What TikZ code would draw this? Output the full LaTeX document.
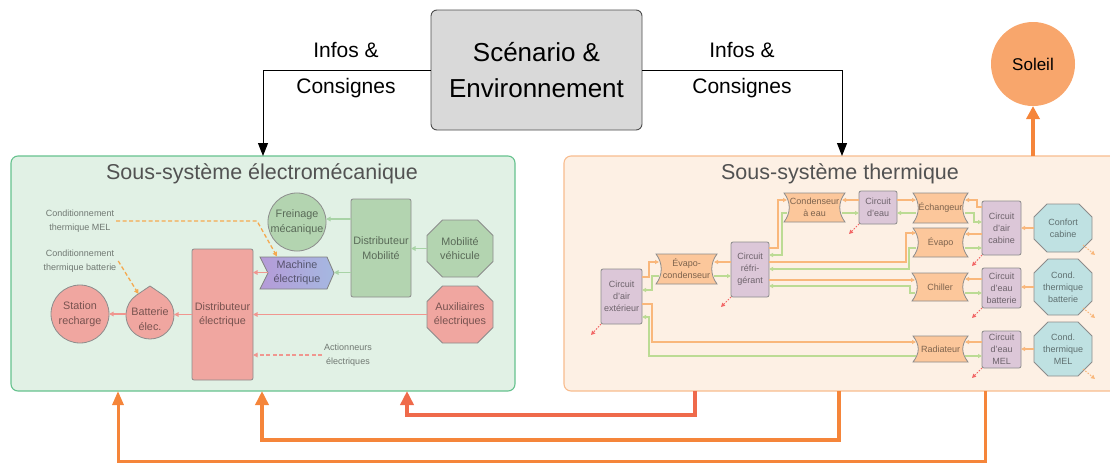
\documentclass[tikz,border=0pt]{standalone}
\usepackage{fontspec}
\setmainfont{Liberation Sans}
\usetikzlibrary{arrows.meta,calc}
\definecolor{lgfill}{HTML}{E1F1E5}
\definecolor{lgdraw}{HTML}{66C28E}
\definecolor{rtfill}{HTML}{FDF0E4}
\definecolor{rtdraw}{HTML}{F8BC8E}
\definecolor{salmon}{HTML}{F0A6A0}
\definecolor{mgreen}{HTML}{B3D4B0}
\definecolor{lav}{HTML}{DCC7D8}
\definecolor{lorange}{HTML}{FCC79B}
\definecolor{lcyan}{HTML}{BFE1E2}
\definecolor{corange}{HTML}{F9B77B}
\definecolor{cgreen}{HTML}{BCDB94}
\definecolor{csalmon}{HTML}{F0968F}
\definecolor{cgreenL}{HTML}{A8D3A6}
\definecolor{cred}{HTML}{F26666}
\definecolor{cdash}{HTML}{F5A94F}
\definecolor{bigA}{HTML}{EF6A4B}
\definecolor{bigB}{HTML}{F5853A}
\definecolor{sun}{HTML}{F8A66C}
\definecolor{scen}{HTML}{D9D9D9}
\definecolor{mpur}{HTML}{B59BD8}
\definecolor{mblu}{HTML}{A5B8E1}

\newcommand\ConcPath[4]{%
 \filldraw[concst] ({#1-#3},{#2-#4}) -- ({#1+#3},{#2-#4})
  .. controls ({#1+#3-7},{#2-#4+9}) and ({#1+#3-7},{#2+#4-9}) .. ({#1+#3},{#2+#4})
  -- ({#1-#3},{#2+#4})
  .. controls ({#1-#3+7},{#2+#4-9}) and ({#1-#3+7},{#2-#4+9}) .. cycle;}
\newcommand\OctPath[6]{%
 \filldraw[#1] ({#2-#4+#6},{#3-#5}) -- ({#2+#4-#6},{#3-#5}) -- ({#2+#4},{#3-#5+#6})
  -- ({#2+#4},{#3+#5-#6}) -- ({#2+#4-#6},{#3+#5}) -- ({#2-#4+#6},{#3+#5})
  -- ({#2-#4},{#3+#5-#6}) -- ({#2-#4},{#3-#5+#6}) -- cycle;}

\begin{document}
\begin{tikzpicture}[x=1pt,y=-1pt,
 every node/.style={inner sep=0pt, outer sep=0pt},
 intx/.style={text=black, text opacity=0.5, align=center},
 etx/.style={intx, font=\fontsize{10.8}{14.5}\selectfont},
 ttx/.style={intx, font=\fontsize{9}{12}\selectfont},
 ntx/.style={intx, font=\fontsize{9}{14.5}\selectfont, inner sep=2pt},
 salfill/.style={etx, draw=black!45, fill=salmon, line width=0.8pt},
 grnfill/.style={etx, draw=black!45, fill=mgreen, line width=0.8pt},
 salbox/.style={salfill, rounded corners=2pt},
 grnbox/.style={grnfill, rounded corners=2pt},
 lavbox/.style={ttx, draw=black!45, fill=lav, line width=0.8pt, rounded corners=2pt, minimum width=39pt},
 concst/.style={fill=lorange, draw=black!45, line width=0.8pt},
 octsal/.style={fill=salmon, draw=black!45, line width=0.8pt},
 octgrn/.style={fill=mgreen, draw=black!45, line width=0.8pt},
 octcyan/.style={fill=lcyan, draw=black!45, line width=0.8pt},
 oarr/.style={draw=corange, line width=1.1pt, -{Triangle[length=4pt,width=4pt]}},
 garr/.style={draw=cgreen, line width=1.1pt, -{Triangle[length=4pt,width=4pt]}},
 garrs/.style={draw=cgreen, line width=1.1pt, {Triangle[length=4pt,width=4pt]}-},
 sarr/.style={draw=csalmon, line width=1.3pt, -{Triangle[length=4.5pt,width=4.5pt]}},
 glarr/.style={draw=cgreenL, line width=1.3pt, -{Triangle[length=4.5pt,width=4.5pt]}},
 sdash/.style={sarr, dash pattern=on 4pt off 2.5pt},
 odash/.style={draw=cdash, line width=1.3pt, dash pattern=on 4pt off 2.5pt, -{Triangle[length=4.5pt,width=4.5pt]}},
 rdot/.style={draw=cred, line width=1pt, dash pattern=on 1.5pt off 1.5pt, -{Triangle[length=4pt,width=4pt]}},
 odot/.style={draw=corange, line width=1pt, dash pattern=on 1.5pt off 1.5pt, -{Triangle[length=4pt,width=4pt]}},
 bigone/.style={draw=bigA, line width=4.5pt, -{Triangle[length=14pt,width=13pt]}},
 bigtwo/.style={draw=bigB, line width=4.5pt, -{Triangle[length=14pt,width=13pt]}},
 bigthree/.style={draw=bigB, line width=3pt, -{Triangle[length=14pt,width=11pt]}},
 infarr/.style={draw=black, line width=1pt, -{Triangle[length=13pt,width=10pt]}},
 titl/.style={text=black!68, font=\fontsize{21.5}{24}\selectfont}
]
\useasboundingbox (0,0) rectangle (1110,464);

% ---------- subsystem boxes ----------
\node[draw=lgdraw, fill=lgfill, rounded corners=7pt, line width=1.1pt,
      minimum width=504pt, minimum height=235pt] (elec) at (263,273.5) {};
\node[draw=rtdraw, fill=rtfill, rounded corners=7pt, line width=1.1pt,
      minimum width=556pt, minimum height=235pt] (therm) at (842,273.5) {};
\node[titl] (elect) at (262,174) {Sous-système électromécanique};
\node[titl] (thermt) at (840,174) {Sous-système thermique};

% ---------- top ----------
\node[draw=black!70, fill=scen, rounded corners=6pt, line width=0.9pt,
      minimum width=211pt, minimum height=120pt, align=center,
      font=\fontsize{26}{36}\selectfont] (scen) at (536.5,70) {Scénario \&\\Environnement};
\node[align=center, font=\fontsize{21}{36}\selectfont] (infL) at (346,70) {Infos \&\\Consignes};
\node[align=center, font=\fontsize{21}{36}\selectfont] (infR) at (742,70) {Infos \&\\Consignes};
\draw[infarr] (scen.west) -| (elec.north);
\draw[infarr] (scen.east) -| (therm.north);
\node[circle, fill=sun, minimum size=84pt, font=\fontsize{17}{20}\selectfont] (sol) at (1033,64) {Soleil};
\draw[draw=bigB, line width=4pt, -{Triangle[length=13pt,width=13pt]}] (therm.north -| sol.south) -- (sol.south);

% ---------- electromechanical ----------
\node[ntx] (cmel) at (80,221) {Conditionnement\\thermique MEL};
\node[ntx] (cbatt) at (80,261) {Conditionnement\\thermique batterie};
\node[ntx] (act) at (348,355) {Actionneurs\\électriques};

\node[salfill, circle, minimum size=58pt] (sta) at (80,314) {Station\\recharge};
\filldraw[draw=black!45, fill=salmon, line width=0.8pt] (150,286) -- (163.44,295.12)
   arc[start angle=55.9, end angle=-235.9, radius=24pt] -- cycle;
\node[etx, circle, minimum size=48pt] (bat) at (150,319) {Batterie\\élec.};
\node[salbox, minimum width=61pt, minimum height=131pt] (dist) at (222.5,314.5) {Distributeur\\électrique};
\shadedraw[left color=mpur, right color=mblu, draw=black!50, line width=0.8pt]
   (260,257) -- (327,257) -- (334,273) -- (327,289) -- (260,289) -- (268,273) -- cycle;
\node[etx, minimum width=74pt, minimum height=32pt] (mach) at (297,272.5) {Machine\\électrique};
\node[grnfill, circle, minimum size=57pt] (frein) at (297,222) {Freinage\\mécanique};
\node[grnbox, minimum width=60pt, minimum height=98pt] (dmob) at (381,248) {Distributeur\\Mobilité};
\OctPath{octgrn}{460}{248.5}{33}{28.5}{15.5}
\node[etx, minimum width=66pt, minimum height=57pt] (mob) at (460,248.5) {Mobilité\\véhicule};
\OctPath{octsal}{460}{314.5}{33}{28.5}{15.5}
\node[etx, minimum width=66pt, minimum height=57pt] (aux) at (460,314.5) {Auxiliaires\\électriques};

\draw[glarr] (mob.west) -- (mob.west -| dmob.east);
\draw[glarr] (dmob.west |- 0,219) -- (frein.east |- 0,219);
\draw[glarr] (dmob.west |- mach.east) -- (mach.east);
\draw[sarr] ($(mach.west)+(8,0)$) -- (dist.east |- mach.west);
\draw[sarr] (aux.west) -- (aux.west -| dist.east);
\draw[sdash] (act.west) -- (act.west -| dist.east);
\draw[sarr] (dist.west) -- (dist.west -| bat.east);
\draw[sarr] (bat.west |- sta.east) -- (sta.east);
\draw[odash] (cmel.east) -- ++(141,0) -- ($(mach.north)+(-20,0)$);
\draw[odash] (cbatt.east) -- ($(bat.north)+(-11.5,-1)$);

% ---------- thermal ----------
\node[lavbox, minimum width=41pt, minimum height=55pt] (ext) at (621.5,296.5) {Circuit\\d'air\\extérieur};
\node[lavbox, minimum width=38pt, minimum height=55pt] (ref) at (750,269.5) {Circuit\\réfri-\\gérant};
\node[lavbox, minimum width=38pt, minimum height=33pt] (eau) at (878,207.5) {Circuit\\d'eau};
\node[lavbox, minimum height=54pt] (cab) at (1001.5,228) {Circuit\\d'air\\cabine};
\node[lavbox, minimum height=40pt] (tbat) at (1001.5,288) {Circuit\\d'eau\\batterie};
\node[lavbox, minimum height=37pt] (mel) at (1001.5,349.5) {Circuit\\d'eau\\MEL};

\ConcPath{686.5}{269}{30.5}{15}
\node[ttx, minimum width=55pt, minimum height=30pt] (evc) at (686.5,269) {Évapo-\\condenseur};
\ConcPath{814.5}{207.5}{30.5}{14.5}
\node[ttx, minimum width=55pt, minimum height=29pt] (cond) at (814.5,207.5) {Condenseur\\à eau};
\ConcPath{940.5}{208}{27.5}{15}
\node[ttx, minimum width=49pt, minimum height=30pt] (ech) at (940.5,208) {Échangeur};
\ConcPath{940.5}{242.5}{27.5}{14.5}
\node[ttx, minimum width=49pt, minimum height=29pt] (evap) at (940.5,242.5) {Évapo};
\ConcPath{940}{287}{28}{14}
\node[ttx, minimum width=50pt, minimum height=28pt] (chil) at (940,287) {Chiller};
\ConcPath{940.5}{349}{27.5}{13}
\node[ttx, minimum width=49pt, minimum height=26pt] (rad) at (940.5,349) {Radiateur};

\OctPath{octcyan}{1063}{228}{29}{24}{13}
\node[ttx, minimum width=58pt, minimum height=48pt] (conf) at (1063,228) {Confort\\cabine};
\OctPath{octcyan}{1063}{287}{29}{28}{14}
\node[ttx, minimum width=58pt, minimum height=56pt] (cthb) at (1063,287) {Cond.\\thermique\\batterie};
\OctPath{octcyan}{1063}{349}{29}{27}{14}
\node[ttx, minimum width=58pt, minimum height=54pt] (cthm) at (1063,349) {Cond.\\thermique\\MEL};

\draw[oarr] (ref.west |- 0,262) -- (evc.east |- 0,262);
\draw[garr] (evc.east |- 0,276) -- (ref.west |- 0,276);
\draw[oarr] (ext.east |- 0,277) -- ++(7,0) |- (evc.west |- 0,262);
\draw[garrs] (ext.east |- 0,290) -- ++(10,0) |- (evc.west |- 0,276);
\draw[oarr] (ext.east |- 0,304) -- ++(10,0) |- (rad.west |- 0,342);
\draw[garrs] (ext.east |- 0,317) -- ++(7,0) |- (rad.west |- 0,356);
\draw[oarr] (ref.east |- 0,248) -- ++(9,0) |- (cond.west |- 0,200);
\draw[garrs] (ref.east |- 0,255) -- ++(13,0) |- (cond.west |- 0,213);
\draw[oarr] (eau.west |- 0,200) -- (cond.east |- 0,200);
\draw[garr] (cond.east |- 0,213) -- (eau.west |- 0,213);
\draw[oarr] (eau.east |- 0,200) -- (ech.west |- 0,200);
\draw[garr] (ech.west |- 0,213) -- (eau.east |- 0,213);
\draw[oarr] (ref.east |- 0,262) -- ++(137,0) |- (evap.west |- 0,233);
\draw[garrs] (ref.east |- 0,269) -- ++(140,0) |- (evap.west |- 0,248);
\draw[oarr] (ref.east |- 0,280) -- (chil.west |- 0,280);
\draw[garrs] (ref.east |- 0,286) -- ++(141,0) |- (chil.west |- 0,293);
\draw[oarr] (cab.west |- 0,207) -- ++(-5,0) |- (ech.east |- 0,200);
\draw[garr] (ech.east |- 0,213) -- ++(9,0) |- (cab.west |- 0,222);
\draw[oarr] (cab.west |- 0,234) -- (evap.east |- 0,234);
\draw[garr] (evap.east |- 0,248) -- (cab.west |- 0,248);
\draw[oarr] (tbat.west |- 0,279) -- (chil.east |- 0,279);
\draw[garr] (chil.east |- 0,293) -- (tbat.west |- 0,293);
\draw[oarr] (mel.west |- 0,342) -- (rad.east |- 0,342);
\draw[garr] (rad.east |- 0,356) -- (mel.west |- 0,356);
\draw[oarr] (conf.west) -- (cab.east |- conf.west);
\draw[oarr] (cthb.west) -- (tbat.east |- cthb.west);
\draw[oarr] (cthm.west) -- (mel.east |- cthm.west);

\draw[rdot] (ext.south west) -- ++(-10,11);
\draw[rdot] (ref.south west) -- ++(-10,10);
\draw[rdot] (eau.south west) -- ++(-10,10);
\draw[rdot] (cab.south west) -- ++(-10,11);
\draw[rdot] (tbat.south west) -- ++(-10,10);
\draw[rdot] (mel.south west) -- ++(-10,10);
\draw[odot] ($(conf.south east)+(-9,-7)$) -- ++(12,10);
\draw[odot] ($(cthb.south east)+(-9,-7)$) -- ++(12,10);
\draw[odot] ($(cthm.south east)+(-9,-7)$) -- ++(12,10);

% ---------- bottom loops ----------
\draw[bigone] (therm.south -| 695,0) -- ++(0,24) -| (elec.south -| 407,0);
\draw[bigtwo] (therm.south -| 839,0) -- ++(0,49) -| (elec.south -| 262,0);
\draw[bigthree] (therm.south -| 985,0) -- ++(0,70) -| (elec.south -| 118,0);
\end{tikzpicture}
\end{document}
